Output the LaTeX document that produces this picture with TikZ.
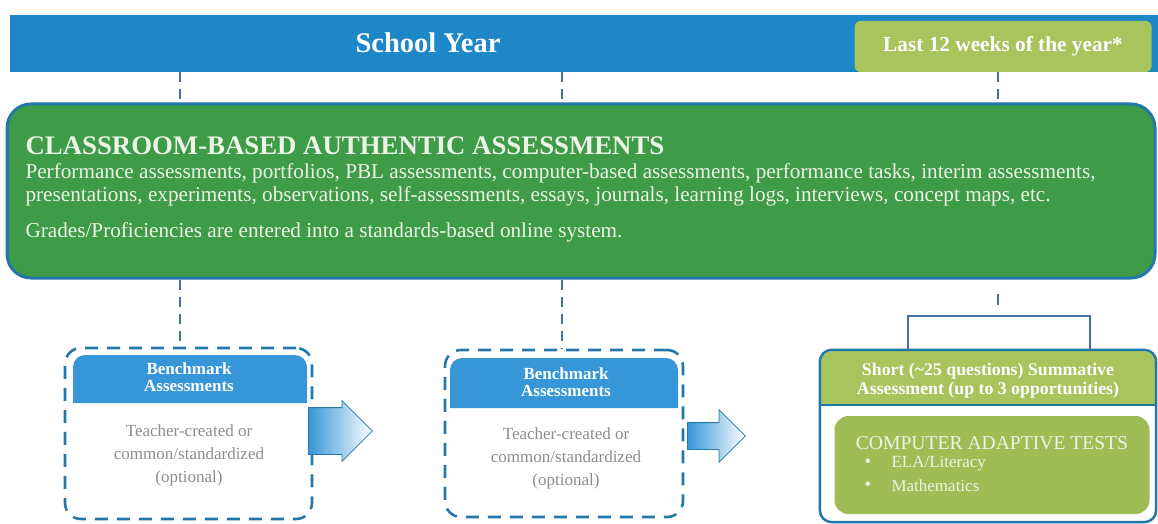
\documentclass[tikz,border=0pt]{standalone}
\usepackage{fontspec}
\setmainfont{Liberation Serif}
\usetikzlibrary{calc,shapes.arrows}

\definecolor{azulano}{RGB}{30,135,200}
\definecolor{verdeano}{RGB}{168,196,92}
\definecolor{verdeescuro}{RGB}{62,155,72}
\definecolor{azulborda}{RGB}{35,120,170}
\definecolor{azulclaro}{RGB}{55,150,215}
\definecolor{azultraco}{RGB}{70,110,160}
\definecolor{cinza}{RGB}{140,140,140}
\definecolor{verdeclaro}{RGB}{158,190,85}
\definecolor{textoclaro}{RGB}{236,244,230}

\begin{document}
\begin{tikzpicture}[x=1pt,y=-1pt,
		tracejado/.style={draw=azultraco, line width=1.4pt, dash pattern=on 10pt off 7pt},
		caixatracejada/.style={draw=azulborda, line width=2.6pt, dash pattern=on 13pt off 9pt, rounded corners=16pt},
		cabecalho/.style={text=white, font=\bfseries\fontsize{17}{17}\selectfont, align=center},
		corpo/.style={text=cinza, font=\fontsize{17}{23}\selectfont, align=center},
		seta/.style={single arrow, draw=azulborda, line width=0.8pt, left color=azulclaro, right color=white, inner xsep=0pt, anchor=tail}]
			\useasboundingbox (0,0) rectangle (1158,524);
			
			\coordinate (x1) at (180,0);
			\coordinate (x2) at (562,0);
			\coordinate (x3) at (998,0);
			\coordinate (pe1) at (908,0);
			\coordinate (pe2) at (1090,0);
			\coordinate (chave) at (0,316);
			
			%desenhando a barra do ano
			\node[fill=azulano, minimum width=1148pt, minimum height=57pt, inner sep=0pt] (ano) at (584,43.5) {};
			\node[text=white, font=\bfseries\fontsize{28.5}{30}\selectfont, anchor=base] (rotulo) at (428,53) {School Year};
			\node[fill=verdeano, rounded corners=6pt, minimum width=297pt, minimum height=51pt, inner sep=0pt] (fim) at (1003,46.5) {};
			\node[text=white, font=\bfseries\fontsize{21.3}{23}\selectfont] at (fim.center) {Last 12 weeks of the year*};
			
			%desenhando a caixa verde
			\node[fill=verdeescuro, draw=azulborda, line width=3pt, rounded corners=24pt, minimum width=1148pt, minimum height=174pt, inner sep=0pt] (verde) at (581,191) {};
			\node[text=textoclaro, font=\bfseries\fontsize{26.8}{28}\selectfont, anchor=base west] (titulo) at (22,154) {CLASSROOM-BASED AUTHENTIC ASSESSMENTS};
			\node[text=textoclaro, font=\fontsize{21.2}{24}\selectfont, anchor=base west] (linha1) at (22,178) {Performance assessments, portfolios, PBL assessments, computer-based assessments, performance tasks, interim assessments,};
			\node[text=textoclaro, font=\fontsize{21.2}{24}\selectfont, anchor=base west] (linha2) at (22,201) {presentations, experiments, observations, self-assessments, essays, journals, learning logs, interviews, concept maps, etc.};
			\node[text=textoclaro, font=\fontsize{21.2}{24}\selectfont, anchor=base west] (linha3) at (22,237) {Grades/Proficiencies are entered into a standards-based online system.};
			
			%desenhando os benchmarks
			\node[caixatracejada, minimum width=247pt, minimum height=171pt] (bench1) at (188.5,433.5) {};
			\fill[azulclaro, rounded corners=12pt] (73,403) -- (73,355) -- (307,355) -- (307,403);
			\node[cabecalho] (cab1) at (189,377) {Benchmark\\Assessments};
			\node[corpo] (texto1) at (189,455) {Teacher-created or\\common/standardized\\(optional)};
			\node[seta, inner ysep=23pt, single arrow head extend=7pt, minimum height=64pt] (seta1) at (308,431) {};
			
			\node[caixatracejada, minimum width=238pt, minimum height=167pt] (bench2) at (564,433.5) {};
			\fill[azulclaro, rounded corners=12pt] (450,408) -- (450,358) -- (678,358) -- (678,408);
			\node[cabecalho] (cab2) at (566,382) {Benchmark\\Assessments};
			\node[corpo] (texto2) at (566,458) {Teacher-created or\\common/standardized\\(optional)};
			\node[seta, inner ysep=13pt, single arrow head extend=13pt, minimum height=58pt] (seta2) at (687,436) {};
			
			%desenhando a caixa da direita
			\node[fill=white, rounded corners=12pt, minimum width=336pt, minimum height=172pt, inner sep=0pt] (direita) at (988,436) {};
			\fill[verdeano, rounded corners=11pt] (821,405) -- (821,351) -- (1155,351) -- (1155,405);
			\draw[azulborda, line width=2.5pt] (direita.west |- 0,405) -- (direita.east |- 0,405);
			\draw[azulborda, line width=2.5pt, rounded corners=12pt] (direita.south west) rectangle (direita.north east);
			\node[text=white, font=\bfseries\fontsize{17.8}{19}\selectfont, align=center] (curto) at (988,381) {Short (\textasciitilde 25 questions) Summative\\Assessment (up to 3 opportunities)};
			\node[fill=verdeclaro, rounded corners=14pt, minimum width=315pt, minimum height=98pt, inner sep=0pt] (cat) at (992,465) {};
			\node[text=textoclaro, font=\fontsize{19.6}{21}\selectfont] (cattitulo) at (992,443) {COMPUTER ADAPTIVE TESTS};
			\node[text=textoclaro, font=\fontsize{19}{20}\selectfont] at (868,463) {•};
			\node[text=textoclaro, font=\fontsize{19}{20}\selectfont] at (868,486) {•};
			\node[text=textoclaro, font=\fontsize{17}{19}\selectfont, anchor=west] (ela) at (888,464) {ELA/Literacy};
			\node[text=textoclaro, font=\fontsize{17}{19}\selectfont, anchor=west] (mat) at (888,486) {Mathematics};
			
			%marcando ligacoes
			\draw[tracejado] (ano.south -| x1) -- (verde.north -| x1);
			\draw[tracejado] (ano.south -| x2) -- (verde.north -| x2);
			\draw[tracejado] (fim.south -| x3) -- (verde.north -| x3);
			\draw[tracejado] (verde.south -| x1) -- (bench1.north -| x1);
			\draw[tracejado] (verde.south -| x2) -- (bench2.north -| x2);
			\draw[tracejado, dash pattern=on 0pt off 14pt on 11pt off 30pt] (verde.south -| x3) -- (chave -| x3);
			\draw[azultraco, line width=1.5pt] (direita.north -| pe1) -- (pe1 |- chave) -- (pe2 |- chave) -- (direita.north -| pe2);
		\end{tikzpicture}
\end{document}
